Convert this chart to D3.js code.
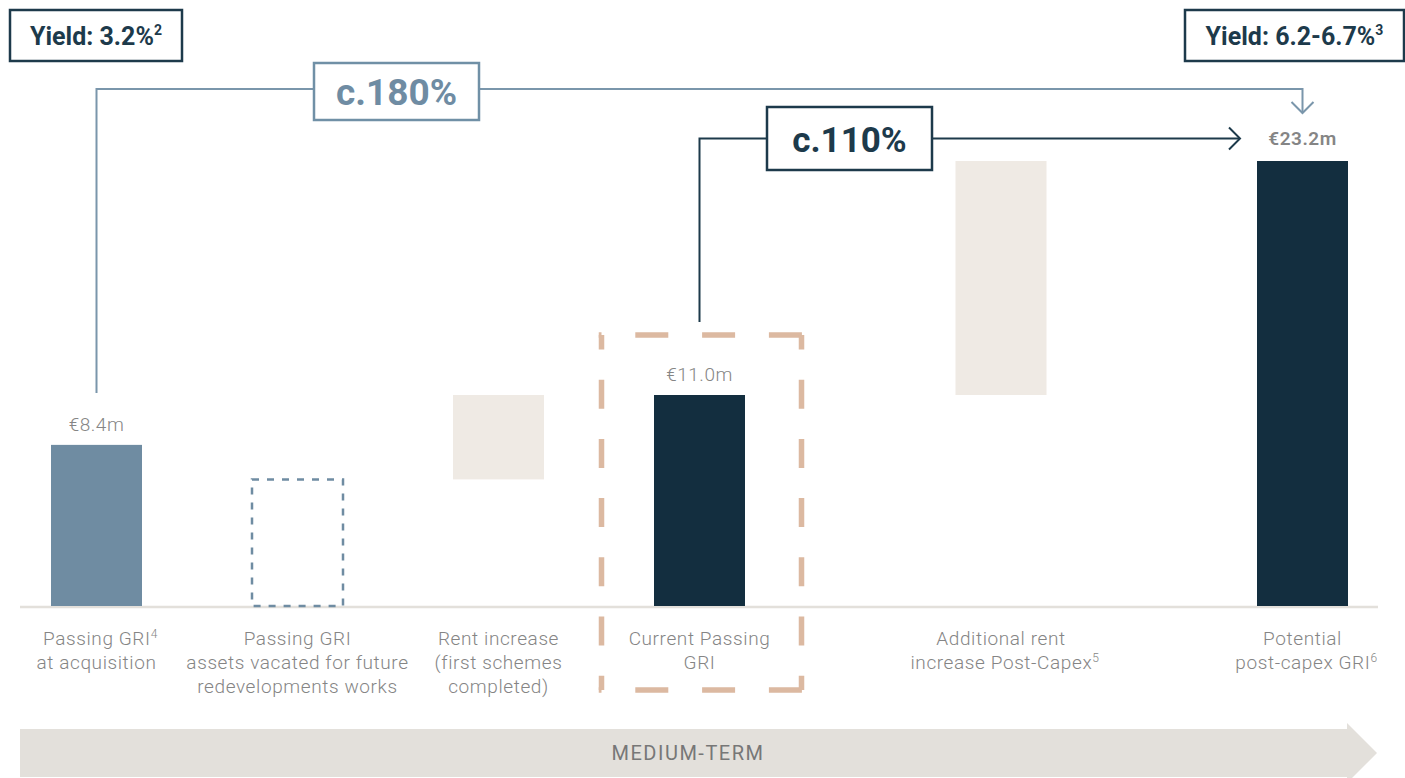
<!DOCTYPE html>
<html>
<head>
<meta charset="utf-8">
<script src="https://cdn.jsdelivr.net/npm/d3@7"></script>
<style>
  html, body { margin: 0; padding: 0; background: #fff; }
  svg { display: block; font-family: Roboto, "Noto Sans", sans-serif; }
</style>
</head>
<body>
<div id="chart-area"></div>
<script>
// data (€m)
const categories = [
  ["Passing GRI^4", "at acquisition"],
  ["Passing GRI", "assets vacated for future", "redevelopments works"],
  ["Rent increase", "(first schemes", "completed)"],
  ["Current Passing", "GRI"],
  ["Additional rent", "increase Post-Capex^5"],
  ["Potential", "post-capex GRI^6"]
]
const barKind = ["acquisition", "vacated", "increase", "current", "increase", "potential"]
const barStart = [0, 0, 6.6, 0, 11.0, 0]
const barEnd = [8.4, 6.6, 11.0, 11.0, 23.2, 23.2]
const valueLabels = ["€8.4m", "", "", "€11.0m", "", "€23.2m"]
const growthLabels = ["c.180%", "c.110%"]
const yieldLabels = [["Yield: 3.2%", "2"], ["Yield: 6.2-6.7%", "3"]]
const periodLabel = "MEDIUM-TERM"

// layout
const WIDTH = 1405
const HEIGHT = 778
const BASE = 606
const BAR_W = 91
const SLOT = [0, 1, 2, 3, 4.5, 6]   // gap before the post-capex steps

const DARK = "#1d3a4b"
const STEEL = "#7090a6"
const GREY = "#858585"
const fills = { acquisition: "#6f8ca2", current: "#132e3f", potential: "#132e3f", increase: "#efeae4" }

const svg = d3.select("#chart-area").append("svg")
  .attr("width", WIDTH)
  .attr("height", HEIGHT)

const x = d3.scaleLinear().domain([0, 6]).range([96.5, 1302.5])
const y = d3.scaleLinear().domain([0, 23.2]).range([BASE, 161])

const idx = d3.range(categories.length)

// dashed box around current passing GRI
const hx0 = x(SLOT[3]) - 98, hx1 = x(SLOT[3]) + 102, hy0 = 335, hy1 = 690
const hl = svg.append("g").attr("stroke", "#dcb9a1").attr("stroke-width", 5.5).attr("fill", "none")
;[[hx0, hy0, hx1, hy0], [hx0, hy1, hx1, hy1]].forEach(s => {
  hl.append("line").attr("x1", s[0] - 2.75).attr("y1", s[1]).attr("x2", s[2] + 2.75).attr("y2", s[3])
    .attr("stroke-dasharray", "33 33.8").attr("stroke-dashoffset", 16.5 - 2.75 + 16.5)
})
;[[hx0, hy0, hx0, hy1], [hx1, hy0, hx1, hy1]].forEach(s => {
  hl.append("line").attr("x1", s[0]).attr("y1", s[1]).attr("x2", s[2]).attr("y2", s[3])
    .attr("stroke-dasharray", "29 30.2").attr("stroke-dashoffset", 14.5)
})

// baseline
svg.append("line")
  .attr("x1", 20).attr("x2", 1378)
  .attr("y1", BASE + 1).attr("y2", BASE + 1)
  .attr("stroke", "#e3e0db").attr("stroke-width", 2.5)

// bars
svg.selectAll("rect.bar")
  .data(idx.filter(i => barKind[i] != "vacated"))
  .enter().append("rect")
  .attr("class", "bar")
  .attr("x", i => x(SLOT[i]) - BAR_W / 2)
  .attr("width", BAR_W)
  .attr("y", i => y(barEnd[i]))
  .attr("height", i => y(barStart[i]) - y(barEnd[i]))
  .attr("fill", i => fills[barKind[i]])

// vacated bar, outline only
svg.selectAll("rect.vacated")
  .data(idx.filter(i => barKind[i] == "vacated"))
  .enter().append("rect")
  .attr("class", "vacated")
  .attr("x", i => x(SLOT[i]) - BAR_W / 2)
  .attr("width", BAR_W)
  .attr("y", i => y(barEnd[i]))
  .attr("height", i => y(barStart[i]) - y(barEnd[i]))
  .attr("fill", "none")
  .attr("stroke", "#6f8ca2")
  .attr("stroke-width", 2.5)
  .attr("stroke-dasharray", "7 8")

// value labels
svg.selectAll("text.value")
  .data(idx.filter(i => valueLabels[i]))
  .enter().append("text")
  .attr("class", "value")
  .attr("x", i => x(SLOT[i]))
  .attr("y", i => y(barEnd[i]) - (i == 5 ? 16 : 14))
  .attr("text-anchor", "middle")
  .attr("font-size", "19px")
  .attr("letter-spacing", "0.5px")
  .attr("font-weight", i => i == 5 ? 600 : 300)
  .attr("fill", GREY)
  .text(i => valueLabels[i])

// category labels, "^n" is a footnote superscript
const catG = svg.selectAll("text.cat")
  .data(idx)
  .enter().append("text")
  .attr("class", "cat")
  .attr("text-anchor", "middle")
  .attr("font-size", "19px")
  .attr("letter-spacing", "0.6px")
  .attr("font-weight", 300)
  .attr("fill", GREY)

catG.each(function(i) {
  const t = d3.select(this)
  categories[i].forEach((line, k) => {
    const parts = line.split("^")
    const ly = 645 + k * 24
    t.append("tspan").attr("x", x(SLOT[i]) + (parts[1] ? 4 : 0)).attr("y", ly).text(parts[0])
    if (parts[1]) {
      t.append("tspan").attr("font-size", "12px").attr("dy", -7).text(parts[1])
    }
  })
})

// growth connectors
function chevron(g, tx, ty, dir, color) {
  const s = 11
  const pts = dir == "down"
    ? [[tx - s, ty - s], [tx, ty], [tx + s, ty - s]]
    : [[tx - s, ty - s], [tx, ty], [tx - s, ty + s]]
  g.append("path").attr("d", d3.line()(pts))
    .attr("fill", "none").attr("stroke", color).attr("stroke-width", 2)
}

const c1 = svg.append("g")
const x180a = x(SLOT[0]), x180b = x(SLOT[5]), y180 = 89
c1.append("path")
  .attr("d", d3.line()([[x180a, y(barEnd[0]) - 52], [x180a, y180], [x180b, y180], [x180b, 113]]))
  .attr("fill", "none").attr("stroke", "#7a96ab").attr("stroke-width", 2)
chevron(c1, x180b, 113, "down", "#7a96ab")
c1.append("rect").attr("x", 314).attr("y", 63).attr("width", 165).attr("height", 57)
  .attr("fill", "#fff").attr("stroke", STEEL).attr("stroke-width", 2.5)
c1.append("text").attr("x", 396.5).attr("y", 105).attr("text-anchor", "middle")
  .attr("font-size", "37px").attr("font-weight", 700).attr("fill", "#6f8ca3")
  .text(growthLabels[0])

const c2 = svg.append("g")
const x110a = x(SLOT[3]), y110 = 138.5
c2.append("path")
  .attr("d", d3.line()([[x110a, 322], [x110a, y110], [1240, y110]]))
  .attr("fill", "none").attr("stroke", DARK).attr("stroke-width", 2)
chevron(c2, 1240, y110, "right", DARK)
c2.append("rect").attr("x", 767).attr("y", 107).attr("width", 165).attr("height", 63)
  .attr("fill", "#fff").attr("stroke", DARK).attr("stroke-width", 2.5)
c2.append("text").attr("x", 849.5).attr("y", 151.5).attr("text-anchor", "middle")
  .attr("font-size", "35px").attr("font-weight", 700).attr("fill", DARK)
  .text(growthLabels[1])

// yield boxes
const yb = [{ x: 10, w: 172 }, { x: 1185, w: 219 }]
yieldLabels.forEach((lab, k) => {
  const g = svg.append("g")
  g.append("rect").attr("x", yb[k].x).attr("y", 10).attr("width", yb[k].w).attr("height", 51)
    .attr("fill", "#fff").attr("stroke", DARK).attr("stroke-width", 2.5)
  const t = g.append("text").attr("x", yb[k].x + yb[k].w / 2).attr("y", 45)
    .attr("text-anchor", "middle").attr("font-size", "25px").attr("font-weight", 700).attr("fill", DARK)
  t.append("tspan").text(lab[0])
  t.append("tspan").attr("font-size", "14px").attr("dy", -10).text(lab[1])
})

// period arrow
svg.append("path")
  .attr("d", d3.line()([[20, 729], [1347, 729], [1347, 723], [1377, 753], [1347, 783], [1347, 777], [20, 777]]) + "Z")
  .attr("fill", "#e3e0db")
svg.append("text").attr("x", 688).attr("y", 760).attr("text-anchor", "middle")
  .attr("font-size", "20px").attr("letter-spacing", "1.5px").attr("fill", "#777")
  .text(periodLabel)
</script>
</body>
</html>
